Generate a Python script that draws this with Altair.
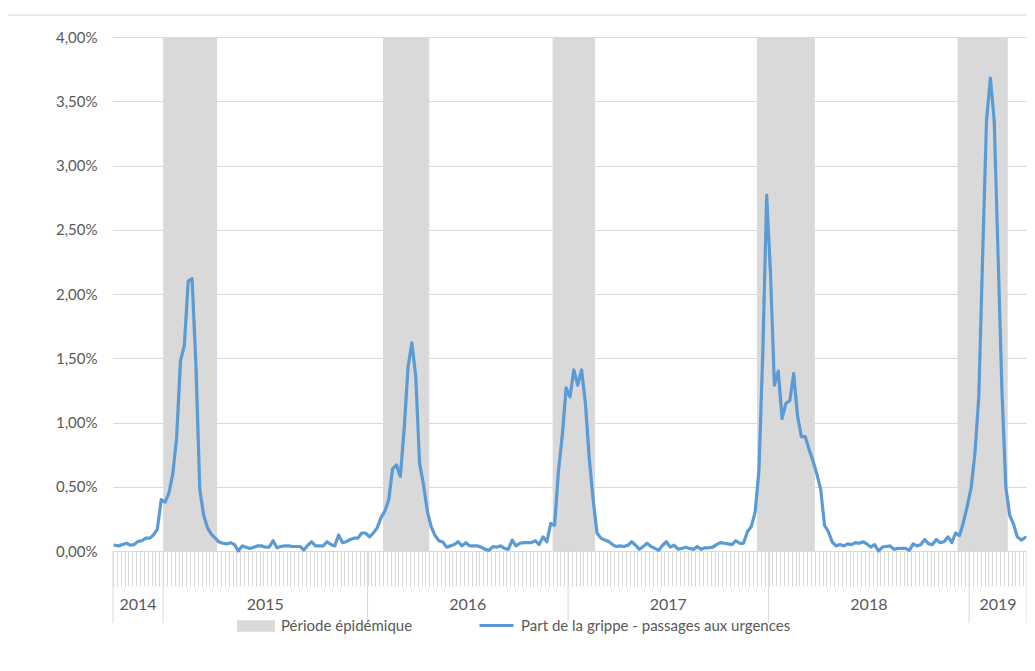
import altair as alt
import pandas as pd
import numpy as np

# ---- data ----
years = ['2014', '2015', '2016', '2017', '2018', '2019']
weeks_per_year = [13, 53, 52, 52, 52, 15]
# epidemic periods: first and (exclusive) last week index
epi_start = [13, 70, 114, 167, 219]
epi_end = [27, 82, 125, 182, 232]
# weekly share of influenza in ER visits (%)
grippe = [
    0.045, 0.04, 0.05, 0.06, 0.045, 0.05, 0.075, 0.08, 0.10, 0.10,
    0.125, 0.17, 0.40, 0.38, 0.45, 0.60, 0.88, 1.48, 1.60, 2.10,
    2.12, 1.45, 0.48, 0.28, 0.18, 0.13, 0.10, 0.07, 0.06, 0.055,
    0.065, 0.05, 0.0, 0.04, 0.03, 0.02, 0.03, 0.04, 0.04, 0.03,
    0.03, 0.08, 0.025, 0.035, 0.04, 0.04, 0.035, 0.035, 0.035, 0.008,
    0.045, 0.072, 0.04, 0.04, 0.04, 0.072, 0.05, 0.04, 0.125, 0.065,
    0.072, 0.09, 0.10, 0.10, 0.14, 0.14, 0.11, 0.14, 0.18, 0.26,
    0.31, 0.40, 0.64, 0.67, 0.58, 0.95, 1.43, 1.62, 1.36, 0.68,
    0.52, 0.31, 0.19, 0.12, 0.08, 0.07, 0.03, 0.04, 0.05, 0.072,
    0.04, 0.065, 0.04, 0.04, 0.04, 0.03, 0.013, 0.005, 0.034, 0.03,
    0.04, 0.02, 0.013, 0.085, 0.04, 0.06, 0.065, 0.065, 0.065, 0.08,
    0.05, 0.11, 0.072, 0.215, 0.20, 0.62, 0.90, 1.27, 1.20, 1.41,
    1.29, 1.41, 1.15, 0.72, 0.40, 0.14, 0.10, 0.085, 0.075, 0.05,
    0.035, 0.04, 0.035, 0.045, 0.072, 0.045, 0.013, 0.035, 0.06, 0.035,
    0.02, 0.005, 0.045, 0.072, 0.03, 0.045, 0.015, 0.02, 0.03, 0.02,
    0.013, 0.034, 0.013, 0.025, 0.025, 0.03, 0.05, 0.065, 0.06, 0.055,
    0.05, 0.08, 0.06, 0.06, 0.15, 0.19, 0.30, 0.63, 1.55, 2.77,
    2.15, 1.29, 1.40, 1.03, 1.15, 1.17, 1.38, 1.05, 0.89, 0.89,
    0.79, 0.70, 0.60, 0.48, 0.20, 0.15, 0.07, 0.04, 0.05, 0.04,
    0.055, 0.05, 0.065, 0.06, 0.072, 0.055, 0.03, 0.05, 0.0, 0.03,
    0.035, 0.04, 0.013, 0.02, 0.02, 0.02, 0.005, 0.055, 0.04, 0.05,
    0.09, 0.055, 0.05, 0.09, 0.065, 0.072, 0.11, 0.065, 0.14, 0.12,
    0.22, 0.35, 0.49, 0.76, 1.20, 2.30, 3.35, 3.68, 3.35, 2.30,
    1.25, 0.50, 0.28, 0.21, 0.11, 0.085, 0.105,
]
y_ticks = [0, 0.5, 1.0, 1.5, 2.0, 2.5, 3.0, 3.5, 4.0]
y_max = 4.0
band_label = 'Période épidémique'
line_label = 'Part de la grippe - passages aux urgences'

# ---- tables ----
n = len(grippe)
bounds = np.concatenate([[0], np.cumsum(weeks_per_year)])
line_df = pd.DataFrame({'idx': np.arange(n) + 0.5, 'v': grippe, 'serie': line_label})
band_df = pd.DataFrame({'s': epi_start, 'e': epi_end, 'top': y_max, 'bot': 0.0, 'lab': band_label})
year_df = pd.DataFrame({'year': years, 'mid': (bounds[:-1] + bounds[1:]) / 2})
sep_df = pd.DataFrame({'b': bounds})

FONT = 'Lato'
TXT = '#595959'
GRID = '#d9d9d9'

xscale = alt.Scale(domain=[0, int(bounds[-1])], nice=False, zero=False)
yscale = alt.Scale(domain=[0, y_max], nice=False)

xaxis = alt.Axis(values=list(range(int(bounds[-1]) + 1)), labels=False, title=None,
                 grid=False, tickSize=35, tickColor=GRID, domainColor=GRID)
yaxis = alt.Axis(values=y_ticks, title=None, domain=False, ticks=False,
                 gridColor=GRID, labelPadding=16, labelFont=FONT, labelFontSize=15,
                 labelColor=TXT,
                 labelExpr="replace(format(datum.value, '.2f'), '.', ',') + '%'")

bands = alt.Chart(band_df).mark_rect().encode(
    x=alt.X('s:Q', scale=xscale, axis=xaxis),
    x2='e:Q',
    y=alt.Y('top:Q', scale=yscale, axis=yaxis),
    y2='bot:Q',
    color=alt.Color('lab:N', scale=alt.Scale(domain=[band_label], range=['#d9d9d9']),
                    legend=alt.Legend(title=None, orient='none', legendX=124, legendY=570,
                                      symbolType='M-1,-0.3H1V0.3H-1Z', symbolSize=1444,
                                      symbolStrokeWidth=0, labelOffset=6, labelLimit=500)),
)

line = alt.Chart(line_df).mark_line(strokeWidth=3.2, strokeJoin='round', strokeCap='round').encode(
    x=alt.X('idx:Q', scale=xscale, axis=xaxis),
    y=alt.Y('v:Q', scale=yscale, axis=yaxis),
    stroke=alt.Stroke('serie:N', scale=alt.Scale(domain=[line_label], range=['#5b9bd5']),
                      legend=alt.Legend(title=None, orient='none', legendX=365, legendY=570,
                                        symbolType='stroke', symbolSize=1156,
                                        symbolStrokeWidth=3, labelOffset=6, labelLimit=500)),
)

seps = alt.Chart(sep_df).mark_rule(color=GRID, strokeWidth=1).encode(
    x=alt.X('b:Q', scale=xscale, axis=xaxis),
    y=alt.value(514),
    y2=alt.value(586),
)

year_txt = alt.Chart(year_df).mark_text(font=FONT, fontSize=16, color=TXT, baseline='middle').encode(
    x=alt.X('mid:Q', scale=xscale, axis=xaxis),
    y=alt.value(568),
    text='year:N',
)

border = alt.Chart(pd.DataFrame({'k': [0]})).mark_rect(fillOpacity=0, stroke=GRID, strokeWidth=1).encode(
    x=alt.value(-107), x2=alt.value(919), y=alt.value(-22), y2=alt.value(660),
)

chart = alt.layer(bands, line, seps, year_txt, border).resolve_scale(
    color='independent', stroke='independent'
).properties(
    width=914, height=514, autosize='none',
    padding={'left': 105, 'top': 29, 'right': 0, 'bottom': 112},
    background='white',
).configure_view(stroke=None).configure_legend(
    labelFont=FONT, labelFontSize=15, labelColor=TXT, padding=0
)

chart.save('out.html', embed_options={'renderer': 'svg', 'actions': False})
